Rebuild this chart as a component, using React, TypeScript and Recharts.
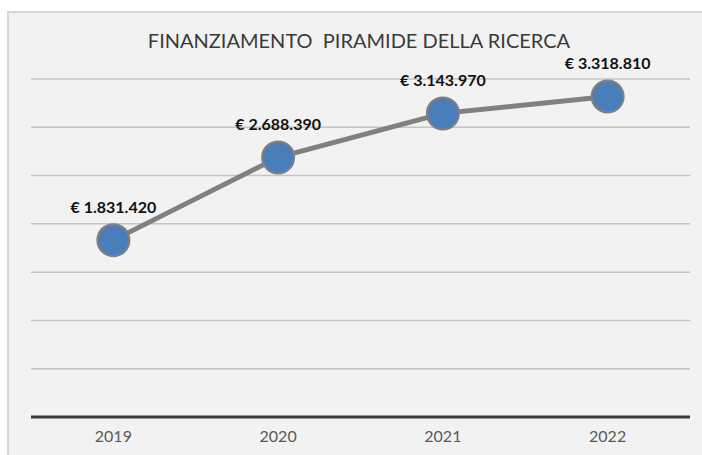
import React from 'react';
import { LineChart, Line, XAxis, YAxis, CartesianGrid, LabelList } from 'recharts';

const years = ['2019', '2020', '2021', '2022'];
const funding = [1831420, 2688390, 3143970, 3318810];
const yTicks = [0, 500000, 1000000, 1500000, 2000000, 2500000, 3000000, 3500000];

const data = years.map((year, i) => ({ year, value: funding[i] }));

// formato italiano: € 1.831.420
const formatEuro = (v: number) => '€ ' + String(v).replace(/\B(?=(\d{3})+(?!\d))/g, '.');

// tick vuoto: l'asse Y serve solo per la griglia
const NoTick = () => <g />;

export default function App() {
  return (
    <div style={{ position: 'relative', width: 702, height: 455, background: '#fff', overflow: 'hidden' }}>
      <style>{`body{margin:0}`}</style>
      <div
        style={{
          position: 'absolute',
          left: 7,
          top: 11,
          width: 710,
          height: 460,
          background: '#f2f2f2',
          border: '2px solid #d6d6d6',
          boxSizing: 'border-box',
        }}
      />
      <div
        style={{
          position: 'absolute',
          left: 0,
          top: 28,
          width: 718,
          textAlign: 'center',
          fontFamily: 'Lato, sans-serif',
          fontSize: 20,
          color: '#3a3a3a',
          whiteSpace: 'pre',
        }}
      >
        {'FINANZIAMENTO  PIRAMIDE DELLA RICERCA'}
      </div>
      <div style={{ position: 'absolute', left: 0, top: 0 }}>
        <LineChart width={702} height={455} data={data} margin={{ top: 79, right: 12, left: 30, bottom: 8 }}>
          <CartesianGrid vertical={false} stroke="#c4c4c4" strokeWidth={1.5} />
          <XAxis
            dataKey="year"
            scale="band"
            height={30}
            axisLine={{ stroke: '#3a3a3a', strokeWidth: 3 }}
            tickLine={false}
            tick={{ fill: '#595959', fontSize: 16, fontFamily: 'Lato, sans-serif' }}
            tickMargin={8}
          />
          <YAxis
            width={1}
            domain={[0, 3500000]}
            ticks={yTicks}
            interval={0}
            tick={<NoTick />}
            axisLine={false}
            tickLine={false}
          />
          <Line
            dataKey="value"
            stroke="#808080"
            strokeWidth={5}
            dot={{ r: 16, fill: '#4a7ebb', stroke: '#808080', strokeWidth: 2 }}
            activeDot={false}
            isAnimationActive={false}
          >
            <LabelList
              dataKey="value"
              position="top"
              offset={27}
              formatter={(v: any) => formatEuro(Number(v))}
              style={{ fill: '#111', fontSize: 16, fontWeight: 700, fontFamily: 'Lato, sans-serif' }}
            />
          </Line>
        </LineChart>
      </div>
    </div>
  );
}
